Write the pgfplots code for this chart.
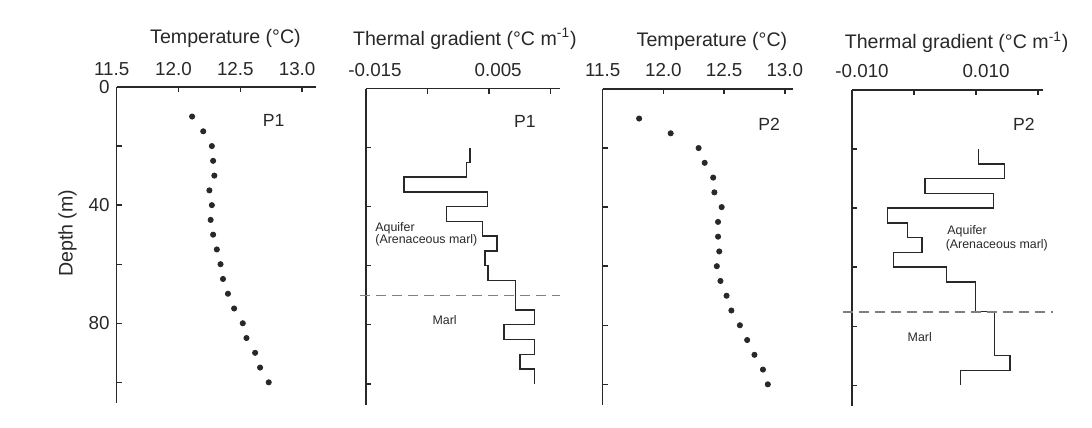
\documentclass[border=0pt]{standalone}
\usepackage{fontspec}
\setmainfont{Liberation Sans}
\usepackage{pgfplots}
\pgfplotsset{compat=1.18}
\definecolor{ink}{RGB}{40,40,40}
\pgfplotsset{
  prof/.style={
    scale only axis, height=158pt, ymin=0, ymax=107, y dir=reverse,
    axis x line*=top, axis y line*=left,
    axis line style={-, ink, line width=0.7pt},
    tick align=inside, major tick length=2.5pt,
    tick style={ink, line width=0.7pt},
    ytick={0,20,...,100}, yticklabels={},
    scaled x ticks=false, scaled y ticks=false,
    clip=false, anchor=north west,
    tick label style={font=\fontsize{9.4}{11}\selectfont, text=ink},
    xticklabel style={anchor=base, yshift=6pt},
  },
  dots/.style={only marks, mark=*, mark size=1.3pt, ink, mark options={fill=ink, draw=ink}},
  stepline/.style={ink, line width=0.7pt, mark=none},
  bound/.style={gray, line width=0.6pt, dash pattern=on 5pt off 3pt},
}
\newcommand{\ttl}{\fontsize{9.8}{11}\selectfont}
\newcommand{\pl}{\fontsize{8.8}{10}\selectfont}
\newcommand{\sm}{\fontsize{6.2}{7}\selectfont}

\begin{document}
\begin{tikzpicture}
\useasboundingbox (0,0) rectangle (546pt,214pt);

% P1 temperature
\begin{axis}[prof, at={(58.35pt,170.5pt)}, width=99.5pt,
  xmin=11.5, xmax=13.11,
  xtick={11.5,12,12.5,13}, xticklabels={11.5,12.0,12.5,13.0},
  xticklabel style={xshift=-2.5pt},
  yticklabels={0,,40,,80,}]
\addplot[dots] coordinates {
  (12.11,10) (12.20,15) (12.27,20) (12.28,25) (12.29,30) (12.25,35)
  (12.27,40) (12.26,45) (12.28,50) (12.31,55) (12.34,60) (12.36,65)
  (12.40,70) (12.45,75) (12.52,80) (12.55,85) (12.62,90) (12.66,95) (12.73,100)
};
\node[anchor=base, font=\ttl, text=ink] at ([yshift=21.75pt]axis cs:12.38,0) {Temperature (°C)};
\node[anchor=base, font=\pl, text=ink] at (axis cs:12.77,13.5) {P1};
\node[rotate=90, font=\ttl, text=ink] at ([xshift=-24.6pt]axis cs:11.5,49.5) {Depth (m)};
\end{axis}

% P1 thermal gradient
\begin{axis}[prof, at={(183pt,169.75pt)}, width=97pt,
  xmin=-0.015, xmax=0.0165,
  xtick={-0.015,-0.005,0.005,0.015}, xticklabels={-0.015,,0.005,},
  xticklabel style={xshift=4.5pt}]
\addplot[stepline] coordinates {
  (0.0019,20) (0.0019,25) (0.0013,25) (0.0013,30) (-0.0088,30) (-0.0088,35)
  (0.0047,35) (0.0047,40) (-0.0019,40) (-0.0019,45) (0.0039,45) (0.0039,50)
  (0.0063,50) (0.0063,55) (0.0043,55) (0.0043,60) (0.0048,60) (0.0048,65)
  (0.0093,65) (0.0093,75) (0.0124,75) (0.0124,80) (0.0074,80) (0.0074,85)
  (0.0124,85) (0.0124,90) (0.0100,90) (0.0100,95) (0.0124,95) (0.0124,100)
};
\addplot[bound] coordinates {(-0.016,70) (0.0165,70)};
\node[anchor=base, font=\ttl, text=ink] at ([yshift=21.75pt]axis cs:0.00105,0) {Thermal gradient (°C m\textsuperscript{-1})};
\node[anchor=base, font=\pl, text=ink] at (axis cs:0.0108,13.3) {P1};
\node[anchor=base west, inner sep=0pt, font=\sm, text=ink] at (axis cs:-0.01354,48.3) {Aquifer};
\node[anchor=base west, inner sep=0pt, font=\sm, text=ink] at (axis cs:-0.01354,52.5) {(Arenaceous marl)};
\node[anchor=base west, inner sep=0pt, font=\sm, text=ink] at (axis cs:-0.00425,79.8) {Marl};
\end{axis}

% P2 temperature
\begin{axis}[prof, at={(301.35pt,169.5pt)}, width=95.3pt,
  xmin=11.5, xmax=13.07,
  xtick={11.5,12,12.5,13}, xticklabels={11.5,12.0,12.5,13.0}]
\addplot[dots] coordinates {
  (11.80,10) (12.06,15) (12.29,20) (12.34,25) (12.41,30) (12.42,35)
  (12.48,40) (12.45,45) (12.45,50) (12.46,55) (12.44,60) (12.47,65)
  (12.52,70) (12.56,75) (12.63,80) (12.69,85) (12.75,90) (12.82,95) (12.86,100)
};
\node[anchor=base, font=\ttl, text=ink] at ([yshift=21.15pt]axis cs:12.40,0) {Temperature (°C)};
\node[anchor=base, font=\pl, text=ink] at (axis cs:12.87,13.9) {P2};
\end{axis}

% P2 thermal gradient
\begin{axis}[prof, at={(426pt,169pt)}, width=95.5pt,
  xmin=-0.01, xmax=0.0208,
  xtick={-0.01,0,0.01,0.02}, xticklabels={-0.010,,0.010,},
  xticklabel style={xshift=5pt}]
\addplot[stepline] coordinates {
  (0.0104,20) (0.0104,25) (0.0146,25) (0.0146,30) (0.0018,30) (0.0018,35)
  (0.0128,35) (0.0128,40) (-0.0043,40) (-0.0043,45) (-0.0011,45) (-0.0011,50)
  (0.0013,50) (0.0013,55) (-0.0033,55) (-0.0033,60) (0.0052,60) (0.0052,65)
  (0.0099,65) (0.0099,75) (0.0130,75) (0.0130,90) (0.0155,90) (0.0155,95)
  (0.0075,95) (0.0075,100)
};
\addplot[bound] coordinates {(-0.0115,75.2) (0.0224,75.2)};
\node[anchor=base, font=\ttl, text=ink] at ([yshift=20.5pt]axis cs:0.00688,0) {Thermal gradient (°C m\textsuperscript{-1})};
\node[anchor=base, font=\pl, text=ink] at (axis cs:0.0177,13.7) {P2};
\node[anchor=base west, inner sep=0pt, font=\sm, text=ink] at (axis cs:0.00533,48.9) {Aquifer};
\node[anchor=base west, inner sep=0pt, font=\sm, text=ink] at (axis cs:0.00506,53.5) {(Arenaceous marl)};
\node[anchor=base west, inner sep=0pt, font=\sm, text=ink] at (axis cs:-0.00108,85) {Marl};
\end{axis}
\end{tikzpicture}
\end{document}
